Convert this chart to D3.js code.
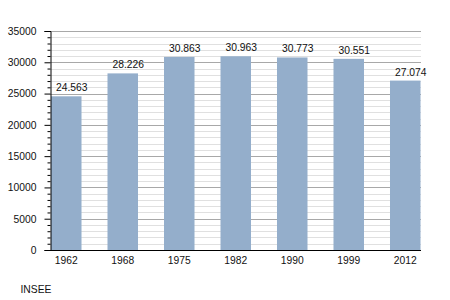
<!DOCTYPE html>
<html><head><meta charset="utf-8">
<script src="https://cdn.jsdelivr.net/npm/d3@7"></script>
<style>
html,body{margin:0;padding:0;background:#fff;}
svg{display:block;font-family:"Liberation Sans",Arial,sans-serif;}
</style></head>
<body>
<svg id="c" width="450" height="300"></svg>
<script>
const years = ["1962","1968","1975","1982","1990","1999","2012"];
const population = [24563, 28226, 30863, 30963, 30773, 30551, 27074];
const valueLabels = ["24.563","28.226","30.863","30.963","30.773","30.551","27.074"];
const yTicks = [0,5000,10000,15000,20000,25000,30000,35000];
const source = "INSEE";

const svg = d3.select("#c");
const pLeft = 50.5, pRight = 421, pTop = 31, pBottom = 250;
const y = d3.scaleLinear().domain([0,35000]).range([pBottom, pTop]);
const x = d3.scaleBand().domain(years).range([51, 420.5]).paddingInner(0.46).paddingOuter(0);

// minor grid
const minor = d3.range(1000, 35001, 1000).filter(v => v % 5000 !== 0);
svg.append("g").selectAll("line").data(minor).join("line")
  .attr("x1", pLeft).attr("x2", pRight)
  .attr("y1", d => Math.round(y(d))+0.5).attr("y2", d => Math.round(y(d))+0.5)
  .attr("stroke", "#e0e0e0").attr("stroke-width", 1);
// major grid
svg.append("g").selectAll("line").data(yTicks.filter(v=>v>0)).join("line")
  .attr("x1", pLeft).attr("x2", pRight)
  .attr("y1", d => Math.round(y(d))+0.5).attr("y2", d => Math.round(y(d))+0.5)
  .attr("stroke", "#a8a8a8").attr("stroke-width", 1);

// bars
svg.append("g").selectAll("rect").data(population).join("rect")
  .attr("x", (d,i) => x(years[i]))
  .attr("width", x.bandwidth())
  .attr("y", d => y(d))
  .attr("height", d => pBottom - y(d))
  .attr("fill", "#94aecb");

// value labels
svg.append("g").selectAll("text").data(population).join("text")
  .attr("x", (d,i) => x(years[i]) + 5)
  .attr("y", d => y(d) - 5)
  .attr("font-size", "10.3px").attr("fill", "#111")
  .text((d,i) => valueLabels[i]);

// y axis
const yAxis = d3.axisLeft(y).tickValues(yTicks).tickSize(6).tickPadding(8).tickFormat(d3.format("d"));
const gy = svg.append("g").attr("transform", `translate(${pLeft},0)`).call(yAxis);
gy.select(".domain").attr("stroke", "#000");
gy.selectAll(".tick line").attr("stroke", "#000");
gy.selectAll(".tick text").attr("font-size", "10.3px").attr("fill", "#111").attr("font-family", "Liberation Sans, Arial, sans-serif");
// minor ticks
const yMinor = d3.axisLeft(y).tickValues(minor).tickSize(3).tickFormat("");
const gym = svg.append("g").attr("transform", `translate(${pLeft},0)`).call(yMinor);
gym.select(".domain").remove();
gym.selectAll(".tick line").attr("stroke", "#000");

// x axis
const xAxis = d3.axisBottom(x).tickSize(0).tickPadding(7);
const gx = svg.append("g").attr("transform", `translate(0,${pBottom})`).call(xAxis);
gx.select(".domain").remove();
gx.selectAll(".tick text").attr("font-size", "10.3px").attr("fill", "#111").attr("font-family", "Liberation Sans, Arial, sans-serif");
svg.append("line").attr("x1", pLeft-0.5).attr("x2", pRight).attr("y1", pBottom+0.5).attr("y2", pBottom+0.5)
  .attr("stroke", "#000").attr("stroke-width", 1.2);

// source
svg.append("text").attr("x", 20.5).attr("y", 293).attr("font-size", "10.3px").attr("fill", "#111").text(source);
</script>
</body></html>
